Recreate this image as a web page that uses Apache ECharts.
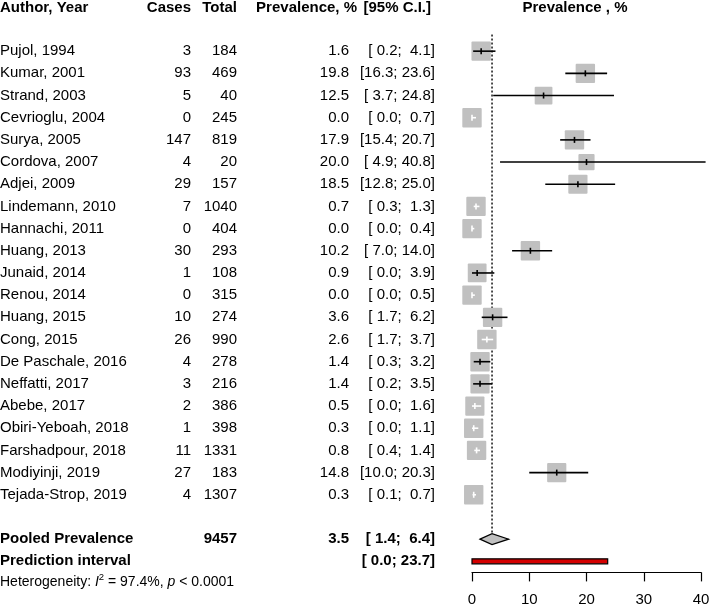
<!DOCTYPE html>
<html><head><meta charset="utf-8">
<script src="https://cdn.jsdelivr.net/npm/echarts@6/dist/echarts.min.js"></script>
<style>html,body{margin:0;padding:0;background:#fff}#c{width:709px;height:606px}</style>
</head><body><div id="c"></div>
<script>
// ---- data ----
const authors = ['Pujol, 1994','Kumar, 2001','Strand, 2003','Cevrioglu, 2004','Surya, 2005','Cordova, 2007','Adjei, 2009','Lindemann, 2010','Hannachi, 2011','Huang, 2013','Junaid, 2014','Renou, 2014','Huang, 2015','Cong, 2015','De Paschale, 2016','Neffatti, 2017','Abebe, 2017','Obiri-Yeboah, 2018','Farshadpour, 2018','Modiyinji, 2019','Tejada-Strop, 2019'];
const cases  = [3,93,5,0,147,4,29,7,0,30,1,0,10,26,4,3,2,1,11,27,4];
const totals = [184,469,40,245,819,20,157,1040,404,293,108,315,274,990,278,216,386,398,1331,183,1307];
const prevalence = [1.6,19.8,12.5,0.0,17.9,20.0,18.5,0.7,0.0,10.2,0.9,0.0,3.6,2.6,1.4,1.4,0.5,0.3,0.8,14.8,0.3];
const ciLower = [0.2,16.3,3.7,0.0,15.4,4.9,12.8,0.3,0.0,7.0,0.0,0.0,1.7,1.7,0.3,0.2,0.0,0.0,0.4,10.0,0.1];
const ciUpper = [4.1,23.6,24.8,0.7,20.7,40.8,25.0,1.3,0.4,14.0,3.9,0.5,6.2,3.7,3.2,3.5,1.6,1.1,1.4,20.3,0.7];
const weights = [4.9,4.9,4.1,4.9,4.9,3.4,4.8,4.9,4.9,4.9,4.6,4.9,4.9,4.9,4.9,4.8,4.8,4.9,4.9,4.8,4.9]; // estimated from square sizes
const pooledTotal = 9457;
const pooledEst = 3.5, pooledLower = 1.4, pooledUpper = 6.4;
const predLower = 0.0, predUpper = 23.7;
const hetI2 = '97.4%', hetP = '< 0.0001';
const xTicks = [0,10,20,30,40];
const headers = ['Author, Year','Cases','Total','Prevalence, %','[95% C.I.]'];
const plotTitle = 'Prevalence , %';

// ---- layout ----
const FONT = 'Liberation Sans, Arial, Helvetica, sans-serif';
const FS = 15;
const COL = {author:0, cases:191, total:237, prev:349, ci:435, prevHead:357, ciHead:431, plotHead:575};
const SQ = 19.4;
const maxW = Math.max.apply(null, weights);
const ROW_POOLED = authors.length + 1;
const ROW_PRED = authors.length + 2;

function f1(v){ return v.toFixed(1); }
function pad4(s){ while (s.length < 4) s = ' ' + s; return s; }
function ciText(lo, hi){ return '[' + pad4(f1(lo)) + '; ' + pad4(f1(hi)) + ']'; }

function txt(x, y, text, align, bold, size){
  return {type:'text', style:{x:x, y:y, text:text, align:align, verticalAlign:'middle',
    fill:'#000', fontSize:size||FS, fontFamily:FONT, fontWeight: bold ? 'bold' : 'normal'}};
}

const chart = echarts.init(document.getElementById('c'), null, {renderer:'canvas'});

const studyData = authors.map((a,i)=>[prevalence[i], i]);

chart.setOption({
  animation:false,
  backgroundColor:'#fff',
  grid:{left:472, right:8, top:6.8, bottom:33.6, containLabel:false, outerBoundsMode:'none'},
  xAxis:{type:'value', position:'bottom', min:xTicks[0], max:xTicks[xTicks.length-1], interval:10,
    axisLine:{show:true, onZero:false, lineStyle:{color:'#000', width:1.2}},
    axisTick:{show:true, inside:false, length:9, lineStyle:{color:'#000', width:1.2}},
    axisLabel:{color:'#000', fontSize:15, fontFamily:FONT, margin:20},
    splitLine:{show:false}},
  yAxis:{type:'value', inverse:true, min:-2, max:23.5, show:false},
  series:[
    {
      type:'custom', clip:false, z:1,
      data:[[pooledEst, ROW_POOLED]],
      renderItem:function(params, api){
        const top = api.coord([pooledEst, -0.75]);
        const bot = api.coord([pooledEst, ROW_POOLED - 0.28]);
        const pc = api.coord([pooledEst, ROW_POOLED]);
        const pl = api.coord([pooledLower, ROW_POOLED])[0];
        const pu = api.coord([pooledUpper, ROW_POOLED])[0];
        const hh = 5.5;
        const rl = api.coord([predLower, ROW_PRED]);
        const ru = api.coord([predUpper, ROW_PRED]);
        const hy = api.coord([0, -1.95])[1];
        const hetY = api.coord([0, 23.92])[1];
        const children = [
          {type:'line', shape:{x1:top[0], y1:top[1], x2:bot[0], y2:bot[1]},
            style:{stroke:'#222', lineWidth:1.6, lineDash:[2,2]}},
          {type:'polygon', shape:{points:[[pl,pc[1]],[pc[0],pc[1]-hh],[pu,pc[1]],[pc[0],pc[1]+hh]]},
            style:{fill:'#c0c0c0', stroke:'#000', lineWidth:1.2}},
          {type:'rect', shape:{x:rl[0], y:rl[1]-2.5, width:ru[0]-rl[0], height:5},
            style:{fill:'#d40000', stroke:'#000', lineWidth:1.2}},
          txt(COL.author, hy, headers[0], 'left', true),
          txt(COL.cases, hy, headers[1], 'right', true),
          txt(COL.total, hy, headers[2], 'right', true),
          txt(COL.prevHead, hy, headers[3], 'right', true),
          txt(COL.ciHead, hy, headers[4], 'right', true),
          txt(COL.plotHead, hy, plotTitle, 'center', true),
          txt(COL.author, pc[1], 'Pooled Prevalence', 'left', true),
          txt(COL.total, pc[1], String(pooledTotal), 'right', true),
          txt(COL.prev, pc[1], f1(pooledEst), 'right', true),
          txt(COL.ci, pc[1], ciText(pooledLower, pooledUpper), 'right', true),
          txt(COL.author, rl[1], 'Prediction interval', 'left', true),
          txt(COL.ci, rl[1], ciText(predLower, predUpper), 'right', true),
          {type:'text', style:{x:COL.author, y:hetY, align:'left', verticalAlign:'middle',
            text:'{a|Heterogeneity: }{i|I}{s|2}{a| = ' + hetI2 + ', }{i|p}{a| ' + hetP + '}',
            rich:{
              a:{fontSize:14, fontFamily:FONT, fill:'#000'},
              i:{fontSize:14, fontFamily:FONT, fontStyle:'italic', fill:'#000'},
              s:{fontSize:9.5, fontFamily:FONT, fill:'#000', padding:[0,0,8,0]}
            }}}
        ];
        return {type:'group', children:children};
      }
    },
    {
      type:'custom', clip:false, z:2,
      data:studyData,
      renderItem:function(params, api){
        const i = params.dataIndex;
        const c = api.coord([prevalence[i], i]);
        const lo = api.coord([ciLower[i], i])[0];
        const hi = api.coord([ciUpper[i], i])[0];
        const s = SQ * Math.sqrt(weights[i] / maxW);
        const inside = lo >= c[0] - s/2 - 0.01 && hi <= c[0] + s/2 + 0.01;
        const lc = inside ? '#fff' : '#000';
        return {type:'group', children:[
          {type:'rect', shape:{x:c[0]-s/2, y:c[1]-s/2, width:s, height:s, r:1}, style:{fill:'#c0c0c0'}},
          {type:'line', shape:{x1:lo, y1:c[1], x2:hi, y2:c[1]}, style:{stroke:lc, lineWidth:1.6}},
          {type:'line', shape:{x1:c[0], y1:c[1]-3, x2:c[0], y2:c[1]+3}, style:{stroke:lc, lineWidth:1.6}},
          txt(COL.author, c[1], authors[i], 'left', false),
          txt(COL.cases, c[1], String(cases[i]), 'right', false),
          txt(COL.total, c[1], String(totals[i]), 'right', false),
          txt(COL.prev, c[1], f1(prevalence[i]), 'right', false),
          txt(COL.ci, c[1], ciText(ciLower[i], ciUpper[i]), 'right', false)
        ]};
      }
    }
  ]
});
</script>
</body></html>
